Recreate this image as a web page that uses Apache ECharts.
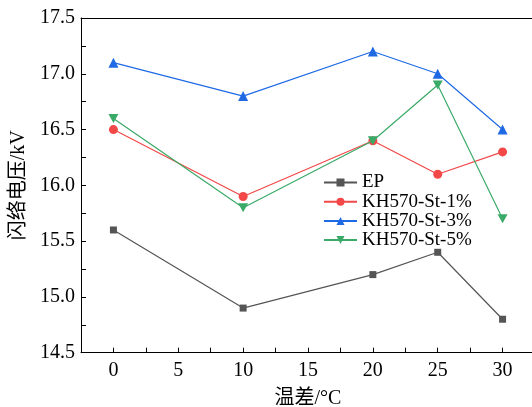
<!DOCTYPE html>
<html><head><meta charset="utf-8">
<script src="https://cdn.jsdelivr.net/npm/echarts@6/dist/echarts.min.js"></script>
<style>html,body{margin:0;padding:0;background:#fff}#c{width:532px;height:407px}</style>
</head><body><div id="c"></div>
<script>
const xValues = [0, 10, 20, 25, 30];
const seriesNames = ['EP', 'KH570-St-1%', 'KH570-St-3%', 'KH570-St-5%'];
const ep = [15.6, 14.9, 15.2, 15.4, 14.8];
const st1 = [16.5, 15.9, 16.4, 16.1, 16.3];
const st3 = [17.1, 16.8, 17.2, 17.0, 16.5];
const st5 = [16.6, 15.8, 16.4, 16.9, 15.7];
const xTicks = [0, 5, 10, 15, 20, 25, 30];
const yTicks = [14.5, 15.0, 15.5, 16.0, 16.5, 17.0, 17.5];

const colors = ['#555555', '#f24848', '#1f6ae4', '#3aaa68'];
const symbols = ['rect', 'circle', 'triangle', 'path://M0,0 L10,0 L5,9 Z'];
const sizes = [7, 9, 10, 10];
const allData = [ep, st1, st3, st5];
const font = '"Liberation Serif", "Noto Sans CJK SC", serif';

const chart = echarts.init(document.getElementById('c'));
chart.setOption({
  animation: false,
  backgroundColor: '#fff',
  grid: { left: 81, right: -3, top: 18, bottom: 54.3, show: false,
    outerBoundsMode: 'none', containLabel: false },
  legend: {
    orient: 'vertical', left: 318, top: 168,
    itemWidth: 33, itemHeight: 10, itemGap: 0.2,
    textStyle: { fontFamily: font, fontSize: 19, color: '#000', lineHeight: 19 },
    data: seriesNames
  },
  xAxis: [{
    type: 'value', min: -2.5, max: 32.5, interval: 2.5,
    name: '温差/°C', nameLocation: 'middle', nameGap: 36,
    nameTextStyle: { fontFamily: font, fontSize: 20, color: '#000' },
    axisLine: { onZero: false, lineStyle: { color: '#000', width: 1 } },
    axisTick: { show: true, inside: true, interval: 0, length: 5, lineStyle: { color: '#000', width: 1 } },
    axisLabel: { fontFamily: font, fontSize: 20, color: '#000', margin: 8, interval: 0,
      formatter: v => (xTicks.indexOf(v) >= 0 ? String(v) : '') },
    splitLine: { show: false }
  }, {
    type: 'value', position: 'top', min: -2.5, max: 32.5,
    axisLine: { show: true, onZero: false, lineStyle: { color: '#000', width: 1 } },
    axisTick: { show: false }, axisLabel: { show: false }, splitLine: { show: false }
  }],
  yAxis: {
    type: 'value', min: 14.5, max: 17.5, interval: 0.25,
    name: '闪络电压/kV', nameLocation: 'middle', nameGap: 52,
    nameTextStyle: { fontFamily: font, fontSize: 20, color: '#000' },
    axisLine: { onZero: false, lineStyle: { color: '#000', width: 1 } },
    axisTick: { show: true, inside: true, interval: 0, length: 5, lineStyle: { color: '#000', width: 1 } },
    axisLabel: { fontFamily: font, fontSize: 20, color: '#000', margin: 6, interval: 0,
      showMinLabel: true, showMaxLabel: true, hideOverlap: false,
      formatter: v => (yTicks.some(t => Math.abs(t - v) < 1e-9) ? v.toFixed(1) : '') },
    splitLine: { show: false }
  },
  series: seriesNames.map((n, i) => ({
    name: n, type: 'line',
    data: xValues.map((x, j) => [x, allData[i][j]]),
    symbol: symbols[i], symbolSize: i === 3 ? [10, 9] : sizes[i],
    showAllSymbol: true,
    itemStyle: { color: colors[i] },
    lineStyle: { color: colors[i], width: 1.2 },
    z: 2 + i
  }))
});
</script></body></html>
